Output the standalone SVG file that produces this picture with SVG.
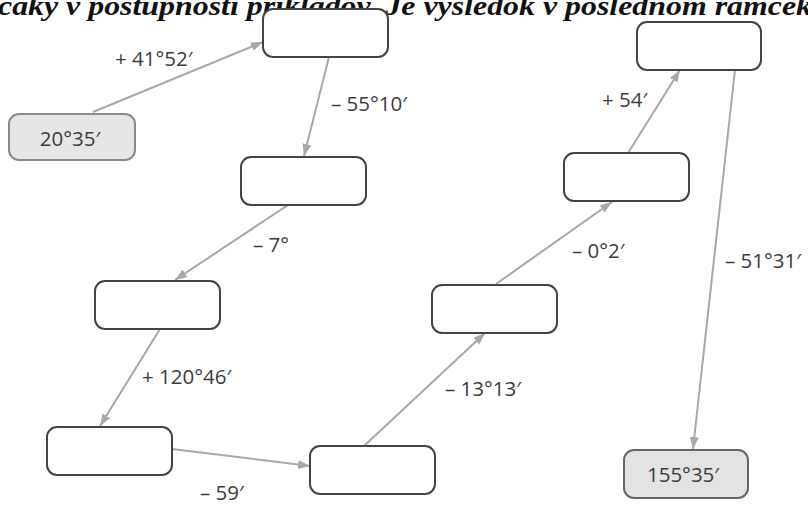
<svg xmlns="http://www.w3.org/2000/svg" width="808" height="505" viewBox="0 0 808 505">
<style>
.box{fill:#ffffff;stroke:#444444;stroke-width:2}
.term{fill:#e6e6e6;stroke:#8a8a8a;stroke-width:2}
.term2{fill:#e3e3e3;stroke:#666666;stroke-width:2}
.lbl{font-family:"Open Sans","Noto Sans",sans-serif;font-size:20.5px;fill:#3c3c3c}
.con line{stroke:#a8a8a8;stroke-width:2;marker-end:url(#ah)}
.hdr{font-family:"Liberation Serif","Times New Roman",serif;font-size:28px;font-weight:bold;font-style:italic;fill:#111111}
</style>
<defs>
<marker id="ah" markerUnits="userSpaceOnUse" markerWidth="13" markerHeight="10" refX="12" refY="4.5" orient="auto">
<path d="M0,0 L12,4.5 L0,9 z" fill="#a8a8a8"/>
</marker>
</defs>
<rect width="808" height="505" fill="#ffffff"/>
<text class="hdr" x="-2" y="15" textLength="814" lengthAdjust="spacingAndGlyphs">čaky v postupnosti príkladov. Je výsledok v poslednom rámček</text>
<g id="connectors" class="con">
<line x1="93" y1="112" x2="263" y2="42"/>
<line x1="329" y1="57" x2="304" y2="156"/>
<line x1="288" y1="205" x2="175" y2="280"/>
<line x1="160" y1="329" x2="100" y2="426"/>
<line x1="172" y1="449" x2="310" y2="466"/>
<line x1="364" y1="446" x2="485" y2="333"/>
<line x1="496" y1="284" x2="612" y2="202"/>
<line x1="628" y1="153" x2="680" y2="70"/>
<line x1="735" y1="70" x2="693" y2="449"/>
</g>
<g id="labels">
<text class="lbl" x="115" y="66">+ 41°52′</text>
<text class="lbl" x="331" y="111">– 55°10′</text>
<text class="lbl" x="253" y="252">– 7°</text>
<text class="lbl" x="142" y="384">+ 120°46′</text>
<text class="lbl" x="200" y="500">– 59′</text>
<text class="lbl" x="445" y="396">– 13°13′</text>
<text class="lbl" x="572" y="258">– 0°2′</text>
<text class="lbl" x="602" y="107">+ 54′</text>
<text class="lbl" x="725" y="268">– 51°31′</text>
</g>
<g id="start"><rect class="term" x="9" y="114" width="126" height="46" rx="10"/><text class="lbl" x="70" y="146" text-anchor="middle">20°35′</text></g>
<g id="boxA"><rect class="box" x="263" y="9" width="125" height="48" rx="10"/></g>
<g id="boxB"><rect class="box" x="241" y="157" width="125" height="48" rx="10"/></g>
<g id="boxC"><rect class="box" x="95" y="281" width="125" height="48" rx="10"/></g>
<g id="boxD"><rect class="box" x="47" y="427" width="125" height="48" rx="10"/></g>
<g id="boxE"><rect class="box" x="310" y="446" width="125" height="48" rx="10"/></g>
<g id="boxF"><rect class="box" x="432" y="285" width="125" height="48" rx="10"/></g>
<g id="boxG"><rect class="box" x="564" y="153" width="125" height="48" rx="10"/></g>
<g id="boxH"><rect class="box" x="637" y="22" width="124" height="48" rx="10"/></g>
<g id="end"><rect class="term2" x="624" y="450" width="124" height="48" rx="10"/><text class="lbl" x="683" y="482" text-anchor="middle">155°35′</text></g>
</svg>
